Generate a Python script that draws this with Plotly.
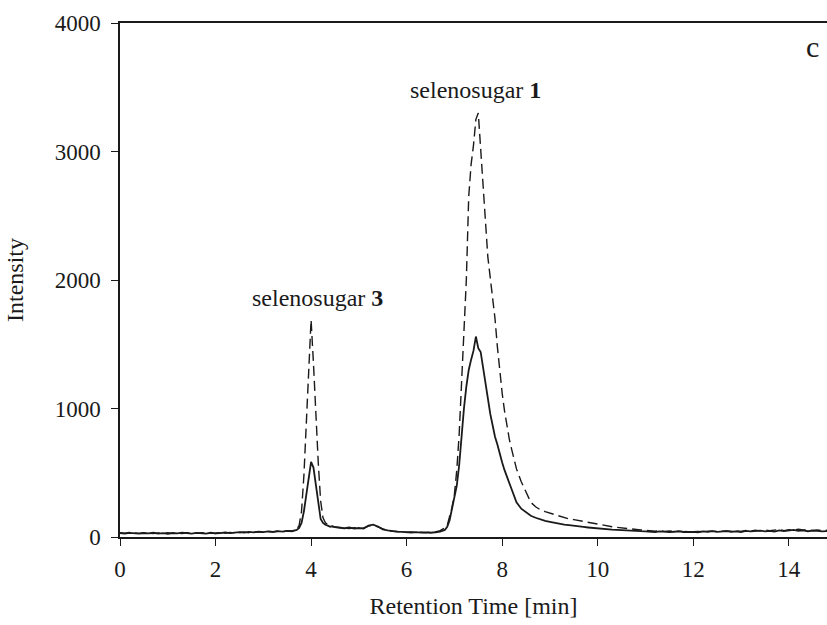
import plotly.graph_objects as go

# Retention time [min] (finer sampling around the two peaks)
time_min = [
    0.0, 0.1, 0.2, 0.3, 0.4, 0.5, 0.6, 0.7, 0.8, 0.9, 1.0, 1.1, 1.2, 1.3, 1.4, 1.5, 1.6, 1.7,
    1.8, 1.9, 2.0, 2.1, 2.2, 2.3, 2.4, 2.5, 2.6, 2.7, 2.8, 2.9, 3.0, 3.1, 3.2, 3.3, 3.4, 3.5,
    3.6, 3.65, 3.7, 3.75, 3.8, 3.85, 3.9, 3.95, 4.0, 4.05, 4.1, 4.15, 4.2, 4.25, 4.3, 4.35,
    4.4, 4.45, 4.5,
    4.6, 4.7, 4.8, 4.9, 5.0, 5.1, 5.2, 5.3, 5.4, 5.5, 5.6, 5.7, 5.8, 5.9, 6.0, 6.1, 6.2, 6.3,
    6.4, 6.5, 6.6, 6.7, 6.8,
    6.85, 6.9, 6.95, 7.0, 7.05, 7.1, 7.15, 7.2, 7.25, 7.3, 7.35, 7.4, 7.45, 7.5, 7.55, 7.6,
    7.65, 7.7, 7.75, 7.8, 7.85, 7.9, 7.95, 8.0, 8.05, 8.1, 8.15, 8.2,
    8.3, 8.4, 8.5, 8.6, 8.7, 8.8, 8.9, 9.0, 9.1, 9.2, 9.3, 9.4, 9.5, 9.6, 9.7, 9.8, 9.9, 10.0,
    10.1, 10.2, 10.3, 10.4, 10.5, 10.6, 10.7, 10.8, 10.9, 11.0,
    11.1, 11.2, 11.3, 11.4, 11.5, 11.6, 11.7, 11.8, 11.9, 12.0, 12.1, 12.2, 12.3, 12.4, 12.5,
    12.6, 12.7, 12.8, 12.9, 13.0, 13.1, 13.2, 13.3, 13.4, 13.5, 13.6, 13.7, 13.8, 13.9, 14.0,
    14.1, 14.2, 14.3, 14.4, 14.5, 14.6, 14.7, 14.8,
]

# solid trace
intensity_solid = [
    30, 27, 32, 29, 26, 31, 28, 33, 27, 30, 25, 31, 28, 34, 29, 26, 32, 30,
    27, 33, 29, 31, 35, 30, 33, 38, 34, 40, 36, 42, 38, 44, 40, 46, 42, 48,
    45, 50, 55, 70, 110, 200, 330, 480, 585, 540, 400, 240, 140, 110, 95, 88,
    80, 84, 76,
    72, 68, 74, 65, 70, 66, 88, 96, 82, 60, 52, 46, 42, 40, 37, 35, 38, 34,
    36, 33, 37, 42, 55,
    80, 130, 220, 310, 400, 560, 800, 1000, 1170, 1300, 1380, 1450, 1560, 1470, 1440, 1330,
    1200, 1080, 960, 860, 780, 720, 640, 580, 520, 470, 420, 380,
    270, 220, 190, 165, 150, 135, 125, 118, 110, 104, 96, 92, 86, 82, 78, 74, 70, 68,
    64, 61, 58, 56, 53, 51, 49, 47, 45, 44,
    42, 39, 43, 40, 38, 41, 44, 39, 42, 40, 37, 43, 41, 45, 40,
    42, 46, 41, 44, 39, 47, 43, 45, 50, 44, 48, 42, 52, 46, 49,
    55, 47, 51, 45, 50, 48, 44, 46,
]

# dashed trace
intensity_dashed = [
    33, 29, 35, 31, 28, 34, 30, 27, 32, 29, 33, 28, 31, 27, 33, 30, 28, 34,
    29, 31, 27, 33, 30, 36, 32, 35, 39, 33, 37, 41, 36, 43, 39, 45, 41, 47,
    47, 52, 60, 90, 200, 480, 850, 1300, 1690, 1350, 900, 580, 280, 150, 110, 95,
    85, 80, 78,
    75, 70, 66, 72, 68, 70, 85, 92, 78, 62, 50, 45, 41, 38, 36, 39, 35, 37,
    34, 38, 40, 50, 70,
    90, 150, 230, 330, 520, 800, 1150, 1600, 2000, 2650, 2900, 3050, 3250, 3300, 3020, 2750,
    2500, 2180, 2020, 1880, 1700, 1480, 1270, 1120, 980, 860, 760, 680,
    530, 430, 350, 270, 235, 212, 197, 185, 175, 165, 150, 140, 135, 128, 118, 112, 105, 98,
    92, 86, 80, 75, 70, 66, 62, 58, 55, 53,
    50, 46, 49, 44, 47, 43, 46, 42, 45, 41, 44, 40, 43, 46, 42,
    45, 48, 43, 47, 44, 50, 46, 52, 48, 55, 49, 53, 58, 50, 56,
    52, 60, 54, 57, 51, 55, 49, 52,
]

x_ticks = [0, 2, 4, 6, 8, 10, 12, 14]
y_ticks = [0, 1000, 2000, 3000, 4000]

FONT = "Liberation Serif, Times New Roman, serif"
INK = "#1a1a1a"

fig = go.Figure()

fig.add_trace(go.Scatter(
    x=time_min, y=intensity_dashed,
    mode="lines",
    line=dict(color=INK, width=1.4, dash="10px,5px"),
    showlegend=False,
))
fig.add_trace(go.Scatter(
    x=time_min, y=intensity_solid,
    mode="lines",
    line=dict(color=INK, width=1.8),
    showlegend=False,
))

# peak labels and panel letter
fig.add_annotation(x=7.44, y=3476, text="selenosugar <b>1</b>", showarrow=False,
                   font=dict(family=FONT, size=24, color=INK))
fig.add_annotation(x=4.14, y=1863, text="selenosugar <b>3</b>", showarrow=False,
                   font=dict(family=FONT, size=24, color=INK))
fig.add_annotation(x=1, y=0.99, xref="paper", yref="paper", text="c",
                   xanchor="center", xshift=-15,
                   showarrow=False, font=dict(family=FONT, size=30, color=INK))

fig.update_layout(
    width=827, height=625,
    margin=dict(l=120, r=0, t=23, b=88),
    paper_bgcolor="white",
    plot_bgcolor="white",
    font=dict(family=FONT, size=23, color=INK),
)

fig.update_xaxes(
    range=[0, 14.8],
    tickvals=x_ticks,
    ticks="outside", ticklen=7, tickwidth=1.3, tickcolor=INK,
    showline=True, linecolor=INK, linewidth=1.5, mirror=True,
    showgrid=False, zeroline=False,
    ticklabelstandoff=4,
    title=dict(text="Retention Time [min]", standoff=16, font=dict(size=24)),
)
fig.update_yaxes(
    range=[0, 4000],
    tickvals=y_ticks,
    ticks="outside", ticklen=7, tickwidth=1.3, tickcolor=INK,
    showline=True, linecolor=INK, linewidth=1.5,
    showgrid=False, zeroline=False,
    ticklabelstandoff=6,
    title=dict(text="Intensity", standoff=24, font=dict(size=24)),
)

# drop the default page margin so the figure fills the window exactly
fig.write_html("out.html", config={"displayModeBar": False},
               post_script="document.body.style.margin='0';")
